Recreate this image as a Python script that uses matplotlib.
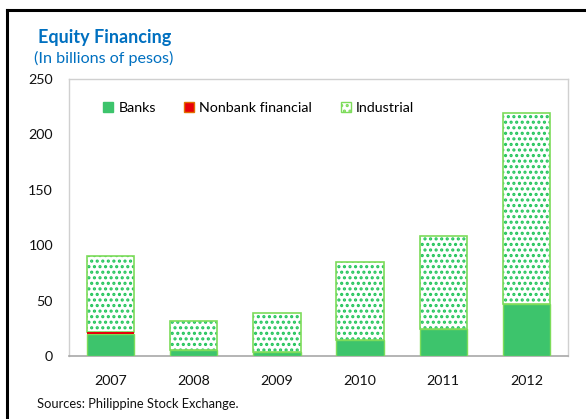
import matplotlib
matplotlib.use("Agg")
import matplotlib.pyplot as plt
from matplotlib.patches import Patch
from matplotlib.lines import Line2D
import numpy as np

years = ["2007", "2008", "2009", "2010", "2011", "2012"]
banks = [19.5, 5.4, 3.6, 14.4, 24.3, 46.8]
nonbank = [2.5, 0.0, 0.0, 0.0, 0.0, 0.0]
industrial = [68.0, 26.6, 35.4, 70.1, 83.7, 172.8]
yticks = [0, 50, 100, 150, 200, 250]

plt.rcParams['font.family'] = ['Lato', 'DejaVu Sans']
plt.rcParams['hatch.linewidth'] = 1.5

fig = plt.figure(figsize=(5.86, 4.19), dpi=100)
ax = fig.add_axes([69/586, 1-356/419, (568-69)/586, (356-79)/419])

x = np.arange(len(years))
w = 0.57
bank_col = '#3dc46c'
edge_col = '#7ddc5a'
red = '#e8000b'
hatch_col = '#22c45a'

b = np.array(banks); n = np.array(nonbank); ind = np.array(industrial)
ax.bar(x, b, w, color=bank_col, edgecolor=edge_col, linewidth=1.0, zorder=3)
ax.bar(x, ind, w, bottom=b+n, color='white', edgecolor=hatch_col, linewidth=0,
       hatch='...', zorder=3)
ax.bar(x, ind, w, bottom=b+n, fill=False, edgecolor=edge_col, linewidth=1.2, zorder=4)
ax.bar(x, n, w, bottom=b, color=red, edgecolor=red, linewidth=0, zorder=5)

ax.set_xlim(-0.5, 5.5)
ax.set_ylim(0, 250)
ax.set_yticks(yticks)
ax.set_xticks(x)
ax.set_xticklabels(years)
ax.tick_params(axis='both', length=0, labelsize=10.3, colors='#111111')
ax.tick_params(axis='x', pad=14)
ax.tick_params(axis='y', pad=11.5)
for s in ['left', 'top', 'right']:
    ax.spines[s].set_color('#d0d0d0')
    ax.spines[s].set_linewidth(1.0)
ax.spines['bottom'].set_color('#a8a8a8')
ax.spines['bottom'].set_linewidth(1.2)

handles = [Patch(facecolor=bank_col, edgecolor=bank_col),
           Patch(facecolor=red, edgecolor='#e07000'),
           Patch(facecolor='white', edgecolor=edge_col, hatch='...')]
leg = ax.legend(handles, ['Banks', 'Nonbank financial', 'Industrial'],
                loc='upper left', bbox_to_anchor=(0.043, 0.962), ncol=3, frameon=False,
                handlelength=0.7, handleheight=0.7, handletextpad=0.35,
                columnspacing=2.0, fontsize=10.3)

fig.text(38/586, 1-38/419, 'Equity Financing', color='#0070c0', fontsize=13,
         fontweight='bold', va='center', ha='left')
fig.text(34/586, 1-58/419, '(In billions of pesos)', color='#0070c0', fontsize=11.6,
         va='center', ha='left')
fig.text(37/586, 1-404/419, 'Sources: Philippine Stock Exchange.', color='#111111',
         fontsize=9.3, va='center', ha='left')

fig.add_artist(Line2D([7/586, 7/586], [0, 1-10/419], transform=fig.transFigure,
                      color='black', linewidth=2.2))
fig.add_artist(Line2D([7/586, 1], [1-10/419, 1-10/419], transform=fig.transFigure,
                      color='black', linewidth=2.2))

fig.savefig('out.png', dpi=100)
